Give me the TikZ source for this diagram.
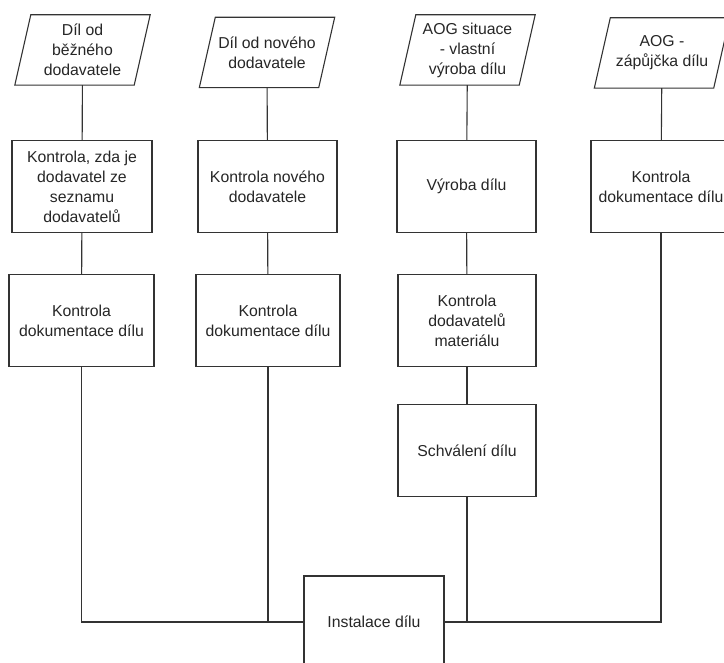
\documentclass[tikz,border=0pt]{standalone}
\usepackage{fontspec}
\setmainfont{Liberation Sans}
\usetikzlibrary{calc}
\begin{document}
\begin{tikzpicture}[x=1pt,y=-1pt,
  ln/.style={draw=black!80, line width=1.1pt},
  every node/.style={font=\fontsize{15.8}{20}\selectfont, text=black!85, align=center, inner sep=0pt},
  io/.style={minimum width=119, minimum height=70},
  proc/.style={ln, rectangle, minimum width=#1, minimum height=92},
  proc/.default=140]
\useasboundingbox (0,0) rectangle (724,663);
\clip (0,0) rectangle (724,663);

% input parallelograms (outline drawn below)
\node[io] (in1) at (82.5,50)  {Díl od\\běžného\\dodavatele};
\node[io] (in2) at (267,52.5) {Díl od nového\\dodavatele};
\node[io] (in3) at (467.5,50) {AOG situace\\- vlastní\\výroba dílu};
\node[io] (in4) at (662,53)   {AOG -\\zápůjčka dílu};
\foreach \n in {in1,in2,in3,in4}
  \draw[ln] ([xshift=8pt]\n.north west) -- ([xshift=8pt]\n.north east)
    -- ([xshift=-8pt]\n.south east) -- ([xshift=-8pt]\n.south west) -- cycle;

% first row of checks
\node[proc=140] (a1) at (82,186.5)  {Kontrola, zda je\\dodavatel ze\\seznamu\\dodavatelů};
\node[proc=139] (b1) at (267.5,186.5) {Kontrola nového\\dodavatele};
\node[proc=139] (c1) at (466.5,186.5) {Výroba dílu};
\node[proc=140] (d1) at (661,186.5)  {Kontrola\\dokumentace dílu};

% second row
\node[proc=145] (a2) at (81.5,320.5) {Kontrola\\dokumentace dílu};
\node[proc=144] (b2) at (268,320.5)  {Kontrola\\dokumentace dílu};
\node[proc=138] (c2) at (467,320.5)  {Kontrola\\dodavatelů\\materiálu};
\node[proc=138] (c3) at (467,450.5)  {Schválení dílu};

% final step
\node[proc=140] (fin) at (374,622) {Instalace dílu};

% connectors
\draw[ln] (in1) -- (a1);
\draw[ln] (a1) -- (a2);
\draw[ln] (in2) -- (b1);
\draw[ln] (b1) -- (b2);
\draw[ln] (in3) -- (c1);
\draw[ln] (c1) -- (c2);
\draw[ln] (c2) -- (c3);
\draw[ln] (in4) -- (d1);
\draw[ln] (a2.south) |- (fin.west);
\draw[ln] (b2.south) |- (fin.west);
\draw[ln] (c3.south) |- (fin.east);
\draw[ln] (d1.south) |- (fin.east);
\end{tikzpicture}
\end{document}
